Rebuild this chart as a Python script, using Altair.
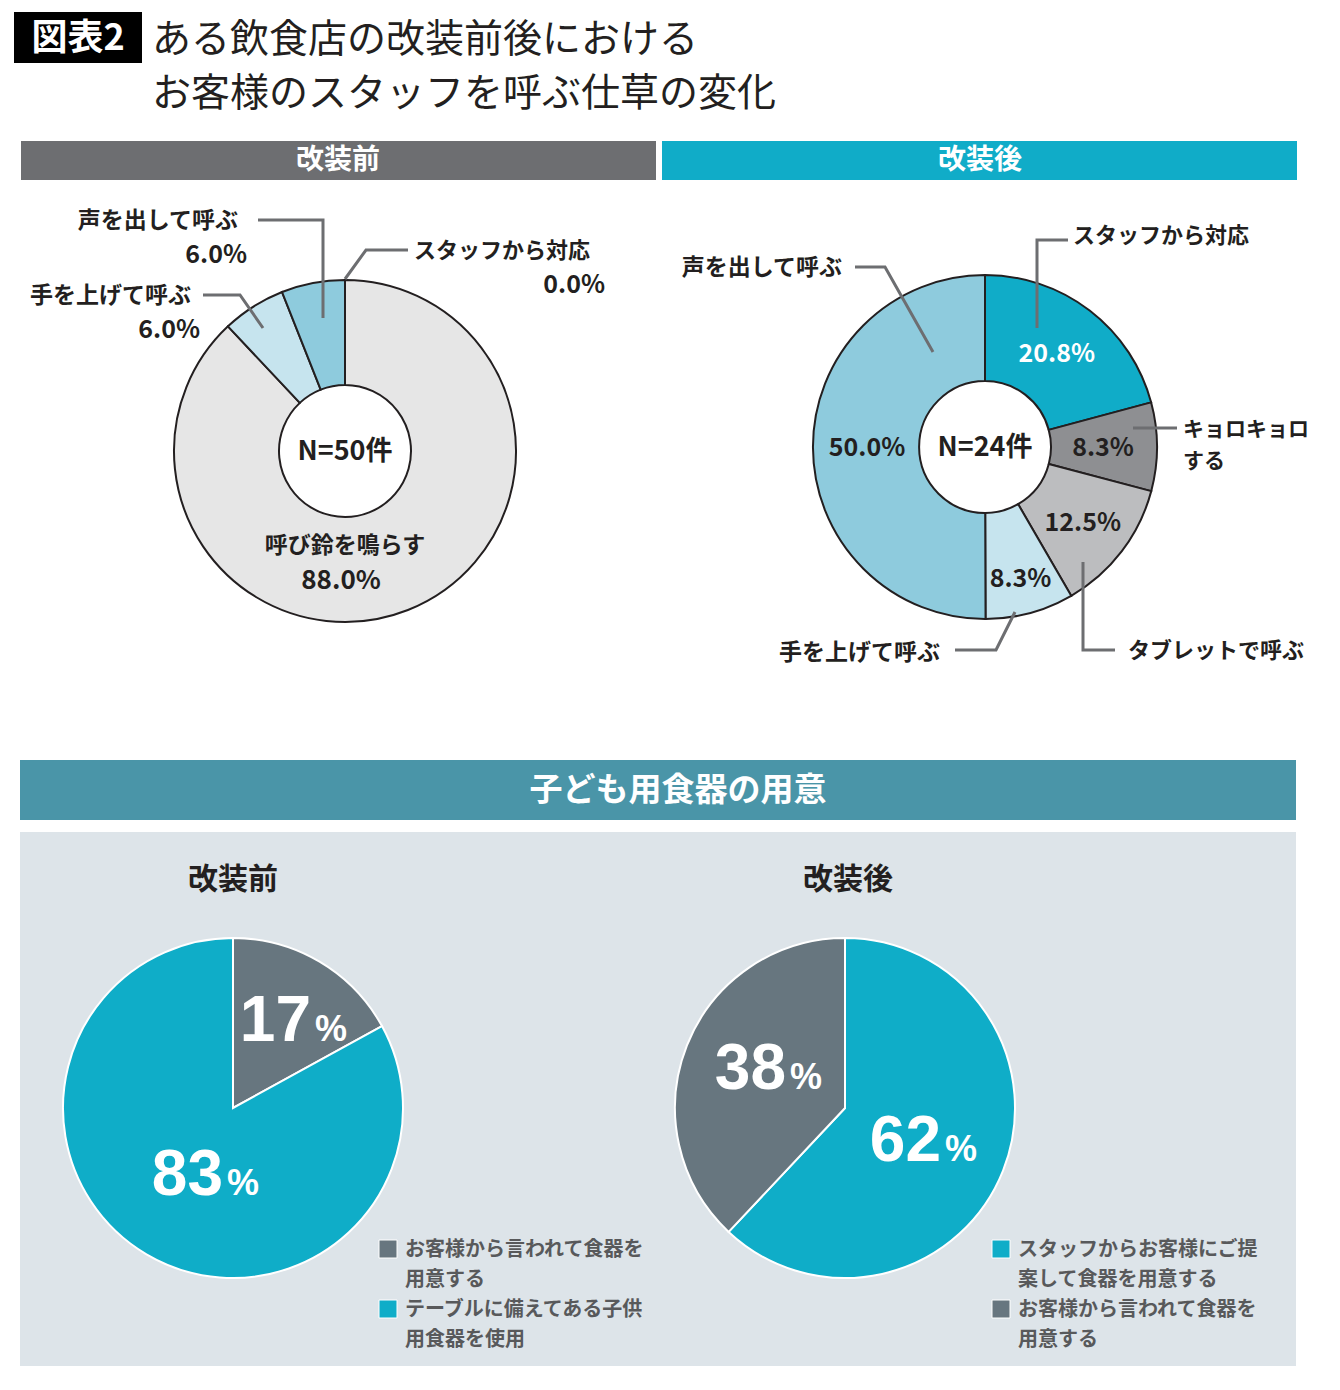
import altair as alt
import pandas as pd

OFF = 8
W, H = 1324, 1374
JP = "Noto Sans CJK JP"
NUM = "Liberation Sans"
DARK = "#231f20"
LINE = "#6d6e71"

# ---------------- data ----------------
before_cats = ["呼び鈴を鳴らす", "手を上げて呼ぶ", "声を出して呼ぶ", "スタッフから対応"]
before_vals = [88.0, 6.0, 6.0, 0.0]
before_colors = ["#e6e6e6", "#c6e4ee", "#8ecbdd", "#10acc8"]

after_cats = ["スタッフから対応", "キョロキョロする", "タブレットで呼ぶ", "手を上げて呼ぶ", "声を出して呼ぶ"]
after_vals = [20.8, 8.3, 12.5, 8.3, 50.0]
after_colors = ["#10acc8", "#8e8f92", "#bcbdbf", "#c6e4ee", "#8ecbdd"]
after_text_colors = ["#ffffff", DARK, DARK, DARK, DARK]
# layout: radial distance (px) of each in-slice label
after_label_r = [118, 118, 123, 136, 118]

dish_before_cats = ["お客様から言われて食器を用意する", "テーブルに備えてある子供用食器を使用"]
dish_before_vals = [17, 83]
dish_before_colors = ["#67767f", "#0fadc8"]

dish_after_cats = ["スタッフからお客様にご提案して食器を用意する", "お客様から言われて食器を用意する"]
dish_after_vals = [62, 38]
dish_after_colors = ["#0fadc8", "#67767f"]

ONE = pd.DataFrame({"a": [0]})


def X(v):
    return alt.value(v - OFF)


def text(s, x, y, size, color=DARK, weight="normal", align="center",
         baseline="middle", font=JP):
    return alt.Chart(ONE).mark_text(
        text=s, fontSize=size, color=color, fontWeight=weight, align=align,
        baseline=baseline, font=font
    ).encode(x=X(x), y=X(y))


def rect(x1, y1, x2, y2, color, stroke=None):
    kw = {"color": color}
    if stroke:
        kw.update(stroke=stroke, strokeWidth=1)
    return alt.Chart(ONE).mark_rect(**kw).encode(x=X(x1), x2=X(x2), y=X(y1), y2=X(y2))


def pie(cats, vals, colors, cx, cy, r_out, r_in, stroke, sw):
    df = pd.DataFrame({"cat": cats, "value": vals, "k": list(range(len(cats))),
                       "col": colors})
    df = df[df.value > 0]
    return alt.Chart(df).mark_arc(
        outerRadius=r_out, innerRadius=r_in, stroke=stroke, strokeWidth=sw
    ).encode(
        theta=alt.Theta("value:Q", stack=True),
        order=alt.Order("k:Q"),
        color=alt.Color("cat:N", scale=alt.Scale(domain=list(df.cat), range=list(df.col)),
                        legend=None),
        x=X(cx), y=X(cy),
    )


# leader lines (image coordinates)
leaders = {
    "b_voice": [(258, 220), (323, 220), (323, 318)],
    "b_hand": [(203, 295), (240, 295), (263, 328)],
    "b_staff": [(345, 279), (366, 250), (408, 250)],
    "a_staff": [(1037, 328), (1037, 240), (1068, 240)],
    "a_voice": [(855, 267), (885, 267), (933, 352)],
    "a_kyoro": [(1133, 428), (1177, 428)],
    "a_tablet": [(1083, 562), (1083, 650), (1115, 650)],
    "a_hand": [(1015, 612), (996, 650), (955, 650)],
}
rows = []
for name, pts in leaders.items():
    for i, (x, y) in enumerate(pts):
        rows.append({"seg": name, "i": i, "x": x - OFF, "y": y - OFF})
lead_df = pd.DataFrame(rows)

layers = []

# ---------- title ----------
layers.append(rect(14, 12, 142, 63, "#000000"))
layers.append(text("図表2", 78, 39, 36, color="#ffffff", weight="bold"))
layers.append(text("ある飲食店の改装前後における", 152, 40, 39, align="left"))
layers.append(text("お客様のスタッフを呼ぶ仕草の変化", 152, 94, 39, align="left"))

# ---------- top headers ----------
layers.append(rect(21, 141, 656, 180, "#6d6e71"))
layers.append(rect(662, 141, 1297, 180, "#10acc8"))
layers.append(text("改装前", 338, 161, 28, color="#ffffff", weight="bold"))
layers.append(text("改装後", 980, 161, 28, color="#ffffff", weight="bold"))

# ---------- donuts ----------
layers.append(pie(before_cats, before_vals, before_colors, 345, 451, 171, 66, DARK, 2))
layers.append(pie(after_cats, after_vals, after_colors, 985, 447, 172, 66, DARK, 2))

# after donut in-slice labels: one layer per label radius (other rows get empty text)
for R in sorted(set(after_label_r)):
    adf = pd.DataFrame({
        "cat": after_cats, "value": after_vals, "k": list(range(len(after_cats))),
        "lab": [f"{v:.1f}%" if r == R else "" for v, r in zip(after_vals, after_label_r)],
        "tc": after_text_colors,
    })
    layers.append(
        alt.Chart(adf).mark_text(radius=R, fontSize=25, fontWeight="bold", font=JP,
                                 align="center", baseline="middle").encode(
            theta=alt.Theta("value:Q", stack=True),
            order=alt.Order("k:Q"),
            detail="cat:N",
            text="lab:N",
            color=alt.Color("tc:N", scale=None),
            x=X(985), y=X(448),
        )
    )

# leader lines
layers.append(
    alt.Chart(lead_df).mark_line(color=LINE, strokeWidth=3, strokeCap="butt",
                                 strokeJoin="miter").encode(
        x=alt.X("x:Q", scale=None), y=alt.Y("y:Q", scale=None),
        detail="seg:N", order="i:Q")
)

# before donut labels
LS = 23
PS = 25
layers += [
    text("声を出して呼ぶ", 238, 221, LS, weight="bold", align="right"),
    text(f"{before_vals[2]:.1f}%", 247, 255, PS, weight="bold", align="right"),
    text("手を上げて呼ぶ", 191, 296, LS, weight="bold", align="right"),
    text(f"{before_vals[1]:.1f}%", 200, 330, PS, weight="bold", align="right"),
    text("スタッフから対応", 414, 251, 22, weight="bold", align="left"),
    text(f"{before_vals[3]:.1f}%", 605, 285, PS, weight="bold", align="right"),
    text("N=50件", 345, 452, 27, weight="bold"),
    text("呼び鈴を鳴らす", 345, 546, LS, weight="bold"),
    text(f"{before_vals[0]:.1f}%", 341, 581, PS + 1, weight="bold"),
]
# after donut outer labels
layers += [
    text("N=24件", 985, 448, 27, weight="bold"),
    text("スタッフから対応", 1073, 236, 22, weight="bold", align="left"),
    text("声を出して呼ぶ", 842, 268, LS, weight="bold", align="right"),
    text("キョロキョロ", 1183, 430, 21, weight="bold", align="left"),
    text("する", 1183, 462, 21, weight="bold", align="left"),
    text("タブレットで呼ぶ", 1128, 651, 22, weight="bold", align="left"),
    text("手を上げて呼ぶ", 940, 653, LS, weight="bold", align="right"),
]

# ---------- bottom section ----------
layers.append(rect(20, 760, 1296, 820, "#4a95a8"))
layers.append(text("子ども用食器の用意", 678, 791, 33, color="#ffffff", weight="bold"))
layers.append(rect(20, 832, 1296, 1366, "#dde4e9"))
layers.append(text("改装前", 233, 880, 30, weight="bold"))
layers.append(text("改装後", 848, 880, 30, weight="bold"))

layers.append(pie(dish_before_cats, dish_before_vals, dish_before_colors, 233, 1108, 170, 0, "#ffffff", 2))
layers.append(pie(dish_after_cats, dish_after_vals, dish_after_colors, 845, 1108, 170, 0, "#ffffff", 2))

# big percentage labels (number right edge / % left edge, baseline)
big = [
    (dish_before_vals[0], 311, 1041),
    (dish_before_vals[1], 223, 1195),
    (dish_after_vals[1], 786, 1089),
    (dish_after_vals[0], 941, 1161),
]
for v, bx, by in big:
    layers.append(text(str(v), bx, by, 64, color="#ffffff", weight="bold",
                       align="right", baseline="alphabetic", font=NUM))
    layers.append(text("%", bx + 4, by, 36, color="#ffffff", weight="bold",
                       align="left", baseline="alphabetic", font=NUM))

# legends
LEG = "#58595b"
def legend_item(sx, sy, color, l1, l2):
    return [
        rect(sx, sy - 9, sx + 18, sy + 9, color, stroke="#ffffff"),
        text(l1, sx + 26, sy + 1, 20, color=LEG, weight="bold", align="left"),
        text(l2, sx + 26, sy + 31, 20, color=LEG, weight="bold", align="left"),
    ]

layers += legend_item(379, 1249, dish_before_colors[0], "お客様から言われて食器を", "用意する")
layers += legend_item(379, 1309, dish_before_colors[1], "テーブルに備えてある子供", "用食器を使用")
layers += legend_item(992, 1249, dish_after_colors[0], "スタッフからお客様にご提", "案して食器を用意する")
layers += legend_item(992, 1309, dish_after_colors[1], "お客様から言われて食器を", "用意する")

chart = alt.layer(*layers).properties(
    width=W, height=H,
    autosize=alt.AutoSizeParams(type="none"),
    padding=0,
    background="#ffffff",
).resolve_scale(theta="independent", color="independent").configure_view(stroke=None)

chart.save("out.html", embed_options={"renderer": "svg", "actions": False})
